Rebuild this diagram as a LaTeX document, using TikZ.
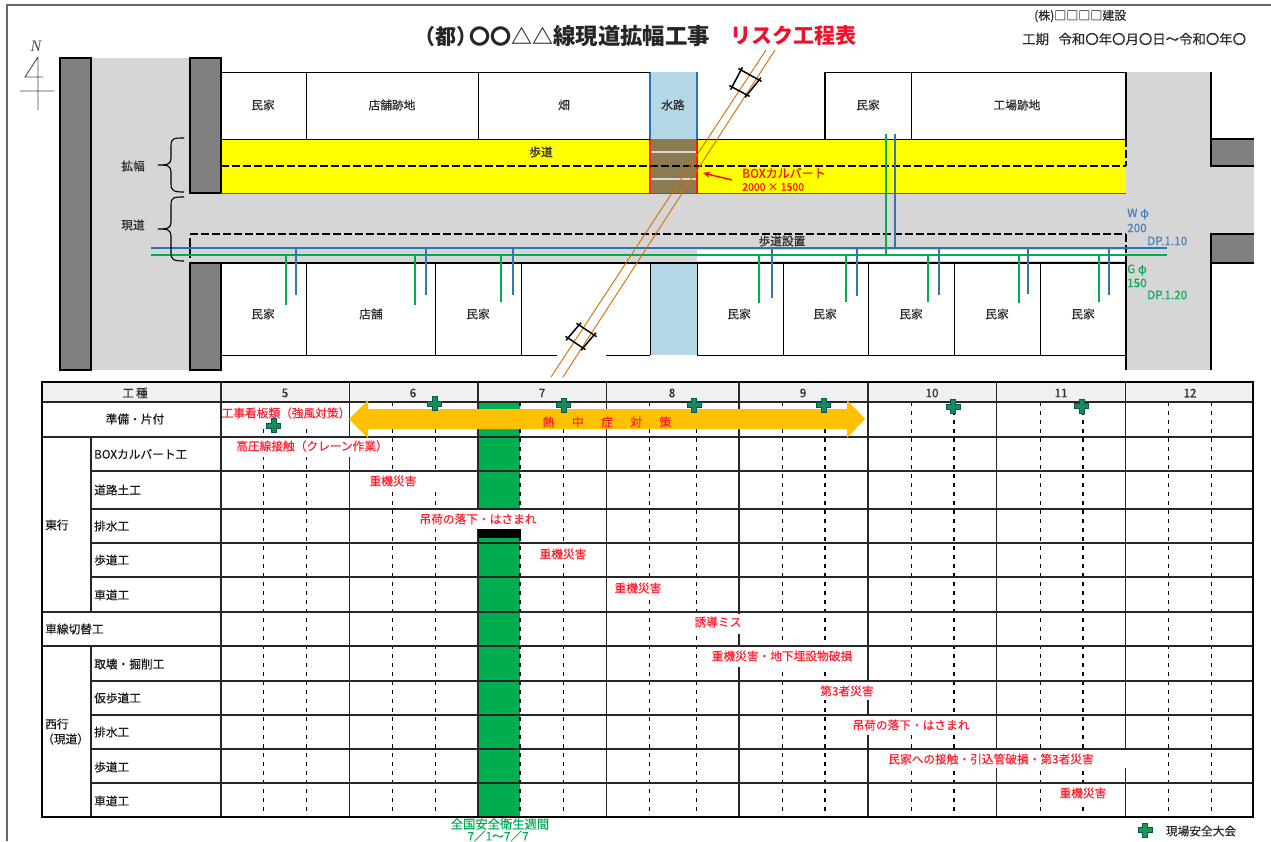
\documentclass[tikz,border=0pt]{standalone}
\usepackage{fontspec}
\usetikzlibrary{arrows.meta}
\setmainfont{Noto Sans CJK JP}
\setsansfont{Liberation Sans}
\newfontfamily\labelfont[RawFeature={embolden=0.35}]{Noto Sans CJK JP}
\newfontfamily\northfont{Liberation Serif}
\definecolor{roadgray}{HTML}{D6D6D6}
\definecolor{bargray}{HTML}{808080}
\definecolor{pipeblue}{HTML}{2A72BA}
\definecolor{pipegreen}{HTML}{00AE50}
\definecolor{waterblue}{HTML}{B4D7E6}
\definecolor{culvert}{HTML}{8C7B50}
\definecolor{hazard}{HTML}{FF1F2F}
\definecolor{heat}{HTML}{FFC000}
\definecolor{txt}{HTML}{2B2B2B}
\definecolor{pureyellow}{HTML}{FFFF00}
\definecolor{titlered}{HTML}{F0102A}
\tikzset{
  lab/.style={font=\labelfont\fontsize{11.7}{13}\selectfont,text=txt,inner sep=0pt},
  rowlab/.style={lab,anchor=west,text=black!90},
  risk/.style={lab,text=hazard},
  wall/.style={draw=black,line width=2pt,fill=bargray},
  lot/.style={draw=black,line width=1pt},
  bound/.style={black,line width=1.8pt},
  sitedash/.style={black,line width=1.8pt,dash pattern=on 8pt off 3pt},
  bluepipe/.style={pipeblue,line width=2pt},
  greenpipe/.style={pipegreen,line width=2pt},
  overhead/.style={draw=orange!85!black,line width=0.9pt},
  grid/.style={black!85,line width=1.4pt},
  weekline/.style={black,line width=1pt,dash pattern=on 4pt off 5pt},
  mask/.style={fill=white,draw=none},
  poleframe/.style={black,line width=1.5pt,shorten >=-3pt,shorten <=-3pt},
  bluetext/.style={lab,text=pipeblue!90},
  greentext/.style={lab,text=pipegreen}
}
\newcommand{\safetymark}[3][1B8A5A]{%
  \definecolor{markfill}{HTML}{#1}%
  \fill[markfill,draw=teal!70!black,line width=1pt,shift={(#2,#3)}]
    (-2.5,-7)--(2.5,-7)--(2.5,-2.5)--(7,-2.5)--(7,2.5)--(2.5,2.5)--(2.5,7)--(-2.5,7)
    --(-2.5,2.5)--(-7,2.5)--(-7,-2.5)--(-2.5,-2.5)--cycle;}
\begin{document}
\begin{tikzpicture}[x=1pt,y=-1pt]
\useasboundingbox (0,0) rectangle (1271,841);
\fill[white] (0,0) rectangle (1271,841);
% page frame
\draw[black!60,line width=1.5pt] (7,841) -- (7,5) -- (1271,5);

% ---- title
\node[inner sep=0pt,anchor=west,text=black!85,font=\bfseries] (title) at (414,36)
  {{\fontsize{21}{22}\selectfont （都）\hspace{-8pt}〇〇△△}{\fontsize{22.4}{22}\selectfont 線現道拡幅工事}};
\node[inner sep=0pt,anchor=west,font=\fontsize{21}{22}\selectfont\bfseries,text=titlered] (subtitle) at (730,36) {リスク工程表};
\node[lab,anchor=west,font=\labelfont\fontsize{12}{13}\selectfont] (company) at (1034,16) {(株)□□□□建設};
\node[lab,anchor=west,font=\labelfont\fontsize{13.4}{14}\selectfont] (period) at (1022,39) {工期\hspace{9.5pt}令和〇年〇月〇日～令和〇年〇};

% ---- north mark
\node[inner sep=0pt,font=\northfont\itshape\fontsize{16}{16}\selectfont,text=black!70] (north) at (36,46) {N};
\draw[black!70,line width=0.9pt] (38,57) -- (25,77) -- (43,77) (38,57) -- (38,110) (20,91) -- (54,91);

% ---- road surfaces
\fill[roadgray] (91,58) rectangle (190,370);
\fill[roadgray] (190,193) rectangle (1126,263);
\fill[roadgray] (1126,72) rectangle (1211,370);
\fill[roadgray] (1211,166) rectangle (1254,234);
\fill[white] (697,250) rectangle (1126,261);
\fill[pureyellow] (221,139) rectangle (1126,193);
\fill[waterblue] (650,72) rectangle (697,139);
\fill[waterblue] (650,263) rectangle (697,355);
\fill[culvert] (650,139) rectangle (697,193);
\draw[white!85!black,line width=1.2pt] (650,152) -- (697,152) (650,179) -- (697,179);
\draw[red!80!orange,line width=1.3pt] (650,139) -- (650,193) (697,139) -- (697,193);
\draw[pipeblue,line width=1.2pt] (650,72) -- (650,139) (697,72) -- (697,139);

% ---- walls
\draw[wall] (60,58) rectangle (91,370);
\draw[wall] (190,58) rectangle (221,193);
\draw[wall] (190,263) rectangle (221,370);
\fill[bargray] (1211,139) rectangle (1254,166);
\fill[bargray] (1211,234) rectangle (1254,263);
\draw[bound] (1254,139) -- (1211,139) -- (1211,166) -- (1254,166);
\draw[bound] (1254,234) -- (1211,234) -- (1211,263) -- (1254,263);
\draw[bound] (1211,72) -- (1211,139) (1211,263) -- (1211,370);

% ---- lots
\draw[lot] (221,72) -- (650,72);
\draw[lot] (825,72) -- (1126,72);
\draw[lot] (306,72) -- (306,139) (478,72) -- (478,139);
\draw[lot] (911,72) -- (911,139);
\draw[lot,line width=1.4pt] (825,72) -- (825,139);
\draw[lot] (221,139) -- (650,139) (697,139) -- (1126,139);
\draw[lot,black!70!yellow] (221,193) -- (1126,193);
\draw[bound] (221,263) -- (1126,263);
\draw[bound] (1126,72) -- (1126,139) (1126,263) -- (1126,370);
\draw[bound,dash pattern=on 8pt off 3pt] (1126,139) -- (1126,166) (1126,234) -- (1126,263);
\draw[lot] (221,355) -- (557,355) (606,355) -- (650,355);
\draw[lot] (697,355) -- (1126,355);
\foreach \x in {306,435,521,783,868,954,1040} \draw[lot] (\x,263) -- (\x,355);
\draw[lot] (650,263) -- (650,355) (697,263) -- (697,355);
\draw[sitedash] (221,166) -- (1126,166);
\draw[sitedash,line width=1.5pt] (190,234) -- (1126,234);
\draw[black,line width=1.6pt] (190,238) -- (190,258);

% ---- utility pipes
\draw[bluepipe,line width=2.5pt] (190,248) -- (1167,248);
\draw[bluepipe,line width=1.3pt] (151,248) -- (190,248);
\draw[greenpipe,line width=1.8pt] (151,255) -- (1167,255);
\foreach \x/\y in {286/305,415/305,501/302,759/303,846/302,928/302,1019/303,1099/302}
  \draw[greenpipe] (\x,255) -- (\x,\y);
\foreach \x/\y in {296/295,426/295,513/295,772/298,857/296,939/295,1028/294,1109/295}
  \draw[bluepipe,pipeblue!85!gray] (\x,248) -- (\x,\y);
\draw[greenpipe] (886,134) -- (886,255);
\draw[bluepipe,pipeblue!85!gray] (895,134) -- (895,248);

% ---- overhead line and pole frames
\draw[overhead] (766,50) -- (551,377);
\draw[overhead] (775,50) -- (563,377);
\coordinate (pa1) at (741,70);
\coordinate (pa2) at (759,80);
\coordinate (pa3) at (747,95);
\coordinate (pa4) at (732,87);
\draw[poleframe] (pa1) -- (pa2);
\draw[poleframe] (pa2) -- (pa3);
\draw[poleframe] (pa3) -- (pa4);
\draw[poleframe] (pa4) -- (pa1);
\coordinate (pb1) at (579,325);
\coordinate (pb2) at (594,335);
\coordinate (pb3) at (583,348);
\coordinate (pb4) at (568,338);
\draw[poleframe] (pb1) -- (pb2);
\draw[poleframe] (pb2) -- (pb3);
\draw[poleframe] (pb3) -- (pb4);
\draw[poleframe] (pb4) -- (pb1);

% ---- braces
\draw[black,line width=1.1pt] (184,138) .. controls (174,138) and (171,138) .. (171,146) -- (171,158)
  .. controls (171,164) and (168,165) .. (158,165) .. controls (168,165) and (171,166) .. (171,172)
  -- (171,184) .. controls (171,191) and (174,192) .. (184,192);
\draw[black,line width=1.1pt] (184,197) .. controls (174,197) and (171,197) .. (171,205) -- (171,222)
  .. controls (171,228) and (168,229) .. (158,229) .. controls (168,229) and (171,230) .. (171,236)
  -- (171,253) .. controls (171,260) and (174,261) .. (184,261);

% ---- plan labels
\node[lab] (pa) at (133,166) {拡幅};
\node[lab] (pb) at (133,225) {現道};
\node[lab] (h1) at (263,105) {民家};
\node[lab] (h2) at (392,105) {店舗跡地};
\node[lab] (h3) at (564,105) {畑};
\node[lab] (h4) at (673,105) {水路};
\node[lab] (h5) at (868,105) {民家};
\node[lab] (h6) at (1017,105) {工場跡地};
\node[lab] (g1) at (263,314) {民家};
\node[lab] (g2) at (371,314) {店舗};
\node[lab] (g3) at (478,314) {民家};
\node[lab] (g4) at (739,314) {民家};
\node[lab] (g5) at (825,314) {民家};
\node[lab] (g6) at (911,314) {民家};
\node[lab] (g7) at (997,314) {民家};
\node[lab] (g8) at (1083,314) {民家};
\node[lab] (walk) at (541,152) {歩道};
\node[lab] (walk2) at (782,241) {歩道設置};
\node[lab,anchor=west,text=red!90!orange,font=\labelfont\fontsize{12}{13}\selectfont] (boxa) at (742,173) {BOXカルバート};
\node[lab,anchor=west,text=red!90!orange,font=\labelfont\fontsize{10.5}{13}\selectfont] (boxb) at (742,187) {2000 × 1500};
\coordinate (boxtail) at (732,180);
\coordinate (boxhead) at (703,173);
\draw[red,line width=1.4pt,-{Stealth[length=7pt,width=6pt]}] (boxtail) -- (boxhead);
\node[bluetext,anchor=west] (wa) at (1127,214) {W φ};
\node[bluetext,anchor=west] (wb) at (1127,228) {200};
\node[bluetext,anchor=west] (wc) at (1147,241) {DP.1.10};
\node[greentext,anchor=west] (ga) at (1127,270) {G φ};
\node[greentext,anchor=west] (gb) at (1127,283) {150};
\node[greentext,anchor=west] (gc) at (1147,295) {DP.1.20};

% ---- schedule table: header and marked week
\fill[black!6] (42,382) rectangle (1253,402);
\fill[pipegreen] (478,402) rectangle (520,817);
\foreach \x in {263,306,392,435,520,563,649,696,782,825,911,954,1040,1083,1168,1211}
  \draw[weekline] (\x,402) -- (\x,817);
\foreach \x in {825,954,1083,520} \draw[weekline,line width=1.6pt] (\x,402) -- (\x,817);
\foreach \x in {349.5,478,606.5,739,868,996.5,1125.5} \draw[grid] (\x,382) -- (\x,817);
% white boxes behind the risk labels
\fill[mask] (222,403) rectangle (348,424);
\fill[mask] (236,438) rectangle (386,457);
\fill[mask] (365,472) rectangle (437,490);
\fill[mask] (420,510) rectangle (536,529);
\fill[mask] (522,544) rectangle (590,563);
\fill[mask] (612,578) rectangle (680,598);
\fill[mask] (694,613.5) rectangle (742,634);
\fill[mask] (705,647) rectangle (856,667);
\fill[mask] (815,681.5) rectangle (876,700);
\fill[mask] (852,715.5) rectangle (970,735);
\fill[mask] (871,750) rectangle (1127,768);
\fill[mask] (1055,784) rectangle (1110,803);
\fill[black] (478,529) rectangle (520.5,538);
% grid
\foreach \y in {402,437,471,509,543,577,612,646,681,715,749,783}
  \draw[grid] (91,\y) -- (1253,\y);
\draw[grid] (42,402) -- (91,402) (42,437) -- (91,437) (42,612) -- (91,612) (42,646) -- (91,646);
\draw[grid] (91,437) -- (91,612) (91,646) -- (91,817);
\draw[grid] (221,382) -- (221,817);
\draw[black,line width=2pt] (42,382) rectangle (1253,817);
\draw[blue!50!violet,line width=0.7pt] (349,437) -- (868,437);

% ---- heat-stroke arrow
\fill[heat] (349,419) -- (368,400) -- (368,409) -- (847,409) -- (847,400) -- (865,419)
  -- (847,438) -- (847,429) -- (368,429) -- (368,438) -- cycle;
\node[risk] (heattext) at (607,422) {熱\hspace{17.5pt}中\hspace{17.5pt}症\hspace{17.5pt}対\hspace{17.5pt}策};

% ---- safety meeting marks
\safetymark{434.5}{403.5}
\safetymark{563.5}{405}
\safetymark{694}{405}
\safetymark{823.5}{405}
\safetymark{953}{406.5}
\safetymark{1081.5}{406}
\safetymark{273.5}{425.5}
\safetymark[1A9A50]{1145}{830}

% ---- header texts
\node[lab] (th0) at (135,393) {工\hspace{2pt}種};
\foreach \x/\m in {285/5,413/6,542/7,672/8,803/9,932/10,1061/11,1190/12}
  \node[lab,name=month\m] at (\x,393) {\m};

% ---- row labels
\node[lab,text=black!90] (r0) at (135,419) {準備・片付};
\node[rowlab] (east) at (45,525) {東行};
\node[rowlab] (r1) at (94,454) {BOXカルバート工};
\node[rowlab] (r2) at (94,490) {道路土工};
\node[rowlab] (r3) at (94,526) {排水工};
\node[rowlab] (r4) at (94,560) {歩道工};
\node[rowlab] (r5) at (94,595) {車道工};
\node[rowlab] (r6) at (45,629) {車線切替工};
\node[rowlab] (r7) at (94,664) {取壊・掘削工};
\node[rowlab] (r8) at (94,698) {仮歩道工};
\node[rowlab] (r9) at (94,732) {排水工};
\node[rowlab] (r10) at (94,767) {歩道工};
\node[rowlab] (r11) at (94,801) {車道工};
\node[rowlab] (west) at (45,724) {西行};
\node[rowlab] (westb) at (42,739) {（現道）};

% ---- risk labels
\node[risk] (k1) at (286,413) {工事看板類（強風対策）};
\node[risk] (k2) at (312,446) {高圧線接触（クレーン作業）};
\node[risk] (k3) at (393,481) {重機災害};
\node[risk] (k4) at (478,519) {吊荷の落下・はさまれ};
\node[risk] (k5) at (563,554) {重機災害};
\node[risk] (k6) at (638,588) {重機災害};
\node[risk] (k7) at (718,622) {誘導ミス};
\node[risk] (k8) at (782,656) {重機災害・地下埋設物破損};
\node[risk] (k9) at (847,691) {第3者災害};
\node[risk] (k10) at (911,725) {吊荷の落下・はさまれ};
\node[risk] (k11) at (991,759) {民家への接触・引込管破損・第3者災害};
\node[risk] (k12) at (1083,793) {重機災害};

% ---- footer
\node[greentext,font=\labelfont\fontsize{12.3}{13}\selectfont] (fa) at (500,824) {全国安全衛生週間};
\node[greentext] (fb) at (498,836) {7／1～7／7};
\node[lab] (legend) at (1201,831) {現場安全大会};
\end{tikzpicture}
\end{document}
